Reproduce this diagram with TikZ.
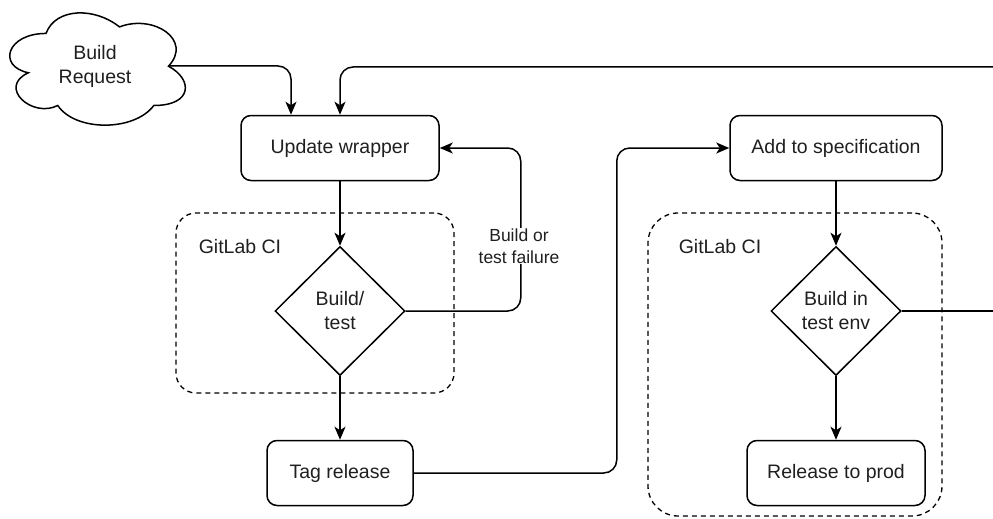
\documentclass[tikz,border=0pt]{standalone}
\usepackage{fontspec}
\setmainfont{Liberation Sans}
\usetikzlibrary{shapes.geometric,arrows.meta,calc}
\begin{document}
\begin{tikzpicture}[x=1pt,y=-1pt,
  line width=1.5pt,
  every node/.style={font=\fontsize{19.5}{24}\selectfont, text=black!88},
  procbox/.style={draw, rounded corners=10pt, minimum width=#1, minimum height=65pt, inner sep=0pt},
  decision/.style={draw, diamond, minimum width=130pt, minimum height=129pt, inner sep=0pt, align=center},
  cigroup/.style={draw, dash pattern=on 5pt off 4pt, line width=1.3pt, rounded corners=#1, inner sep=0pt},
  flow/.style={-{Stealth[length=13pt,width=11pt,inset=3.5pt]}, rounded corners=13pt},
  edgelabel/.style={fill=white, align=center, inner sep=1pt, font=\fontsize{17.5}{22}\selectfont},
]
\useasboundingbox (0,0) rectangle (993,519);

% dashed CI containers
\node[cigroup=20pt, minimum width=278pt, minimum height=180pt] (ci1) at (315,303) {};
\node[cigroup=30pt, minimum width=294pt, minimum height=303pt] (ci2) at (795,364.5) {};
\node (ci1lbl) at (240,247) {GitLab CI};
\node (ci2lbl) at (720,247) {GitLab CI};

% build request cloud
\draw[shift={(-3,0.7)}, xscale=196, yscale=131]
  (0.25,0.25) .. controls (0.05,0.25) and (0,0.5) .. (0.16,0.55)
  .. controls (0,0.66) and (0.18,0.9) .. (0.31,0.8)
  .. controls (0.4,1) and (0.7,1) .. (0.8,0.8)
  .. controls (1,0.8) and (1,0.6) .. (0.875,0.5)
  .. controls (1,0.3) and (0.8,0.1) .. (0.625,0.2)
  .. controls (0.5,0.05) and (0.3,0.05) .. (0.25,0.25) -- cycle;
\node[align=center] (req) at (95,66) {Build\\Request};
\coordinate (reqout) at (168.5,66);

% process steps
\node[procbox=198pt] (upd) at (340,148) {Update wrapper};
\node[decision] (bt) at (340,311) {Build/\\test};
\node[procbox=146pt] (tag) at (340,473) {Tag release};
\node[procbox=212pt] (spec) at (836,148) {Add to specification};
\node[decision] (bte) at (836,311) {Build in\\test env};
\node[procbox=178pt] (prod) at (836,473) {Release to prod};

% loose ends running off the right side
\coordinate (backin) at (993,67);
\coordinate (out) at (993,311);

% connectors
\draw[flow] (reqout) -| ([xshift=-49pt]upd.north);
\draw[flow] (backin) -| (upd.north);
\draw[flow] (upd) -- (bt);
\draw[flow] (bt.east) -- ++(115,0) |- (upd.east);
\node[edgelabel] (fail) at (519,246) {Build or\\test failure};
\draw[flow] (bt) -- (tag);
\draw[flow] (tag.east) -- ++(203,0) |- (spec.west);
\draw[flow] (spec) -- (bte);
\draw[flow] (bte) -- (prod);
\draw (bte.east) -- (out);
\end{tikzpicture}
\end{document}
